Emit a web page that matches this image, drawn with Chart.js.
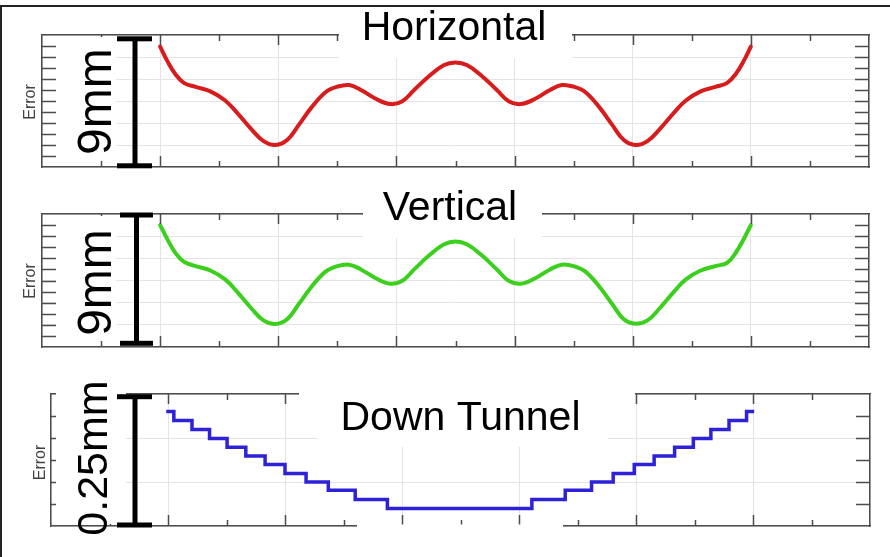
<!DOCTYPE html>
<html>
<head>
<meta charset="utf-8">
<script src="https://cdn.jsdelivr.net/npm/chart.js@4"></script>
<style>
  html, body { margin: 0; padding: 0; background: #fff; }
  #page { position: relative; width: 890px; height: 557px; overflow: hidden; }
  #frame { position: absolute; left: 0; top: 5px; width: 900px; height: 560px;
           border-top: 2px solid #222; border-left: 2px solid #222; box-sizing: border-box; }
  canvas { position: absolute; left: 0; }
</style>
</head>
<body>
<div id="page">
  <div id="frame"></div>
  <canvas id="c1" width="890" height="185" style="top:0"></canvas>
  <canvas id="c2" width="890" height="185" style="top:185px"></canvas>
  <canvas id="c3" width="890" height="187" style="top:370px"></canvas>
</div>
<script>
// values (x in tick units 0..14, error in minor y-tick units)
const curveX = [2.0, 2.125, 2.25, 2.4, 2.6, 2.85, 3.1, 3.3, 3.55, 3.75, 3.95, 4.15, 4.35, 4.55, 4.8, 5.0,
  5.2, 5.4, 5.65, 5.9, 6.1, 6.3, 6.55, 6.8, 7.0, 7.2, 7.45, 7.7, 7.9, 8.1, 8.35, 8.6, 8.8, 9.0, 9.2,
  9.45, 9.65, 9.85, 10.05, 10.25, 10.45, 10.7, 10.9, 11.15, 11.4, 11.6, 11.75, 11.875, 12.0];
const horizontalErr = [10.95, 9.6, 8.5, 7.65, 7.28, 6.88, 6.05, 4.95, 3.4, 2.35, 2.0, 2.45, 3.85, 5.33, 6.8, 7.3,
  7.45, 7.0, 6.2, 5.72, 5.98, 7.0, 8.25, 9.25, 9.5, 9.25, 8.25, 7.0, 5.98, 5.72, 6.2, 7.0, 7.45, 7.3, 6.8,
  5.33, 3.85, 2.45, 2.0, 2.35, 3.4, 4.95, 6.05, 6.88, 7.28, 7.65, 8.5, 9.6, 10.95];
const verticalErr = [11.0, 9.7, 8.55, 7.7, 7.3, 6.9, 6.1, 5.0, 3.45, 2.4, 2.07, 2.5, 3.9, 5.35, 6.8, 7.3,
  7.43, 7.0, 6.2, 5.71, 5.98, 7.0, 8.25, 9.25, 9.53, 9.25, 8.25, 7.0, 5.98, 5.71, 6.2, 7.0, 7.43, 7.3, 6.8,
  5.35, 3.9, 2.5, 2.1, 2.4, 3.45, 5.0, 6.1, 6.9, 7.3, 7.6, 8.55, 9.7, 11.0];
const tunnelX = [1.97, 2.10, 2.41, 2.71, 3.01, 3.33, 3.66, 4.0, 4.36, 4.74, 5.20, 5.75,
  8.22, 8.79, 9.24, 9.61, 9.97, 10.31, 10.66, 10.98, 11.28, 11.59, 11.89, 12.02];
const tunnelErr = [5.2, 4.79, 4.39, 3.98, 3.58, 3.18, 2.79, 2.39, 2.0, 1.62, 1.21, 0.8,
  1.21, 1.62, 2.0, 2.39, 2.79, 3.18, 3.58, 3.98, 4.39, 4.79, 5.2, 5.2];
const titles = ["Horizontal", "Vertical", "Down Tunnel"];
const spans = ["9mm", "9mm", "0.25mm"];

const AXIS = "#4d4d4d";
const GRID = "#e4e4e4";
const FONT = '"Liberation Sans", Arial, sans-serif';

function points(xs, ys) { return xs.map((x, i) => ({ x, y: ys[i] })); }

// inward MATLAB-style ticks, white cover boxes, titles and the scale bracket
function decor(d) {
  return {
    id: "decor",
    afterDraw(chart) {
      const ctx = chart.ctx, a = chart.chartArea;
      const sx = chart.scales.x, sy = chart.scales.y;
      ctx.save();
      ctx.strokeStyle = AXIS;
      ctx.lineWidth = 1.5;
      ctx.beginPath();
      for (let v = 1; v < 14; v++) {
        const px = Math.round(sx.getPixelForValue(v)) + 0.5;
        const major = v % 2 === 0;
        ctx.moveTo(px, a.bottom); ctx.lineTo(px, a.bottom - (major ? 11 : 6));
        ctx.moveTo(px, a.top); ctx.lineTo(px, a.top + (major ? 10 : 6));
      }
      for (let v = 1; v < d.ymax; v++) {
        const py = Math.round(sy.getPixelForValue(v)) + 0.5;
        ctx.moveTo(a.left, py); ctx.lineTo(a.left + 14, py);
        ctx.moveTo(a.right, py); ctx.lineTo(a.right - 14, py);
      }
      ctx.stroke();

      ctx.fillStyle = "#fff";
      d.masks.forEach(m => ctx.fillRect(m[0], m[1], m[2] - m[0], m[3] - m[1]));

      ctx.fillStyle = "#000";
      ctx.font = "41px " + FONT;
      ctx.textAlign = "center";
      ctx.textBaseline = "alphabetic";
      ctx.fillText(d.title, d.titleX, d.titleY);

      const vtext = (t, x, y, size, color) => {
        ctx.save();
        ctx.translate(x, y);
        ctx.rotate(-Math.PI / 2);
        ctx.font = size + "px " + FONT;
        ctx.fillStyle = color;
        ctx.textAlign = "center";
        ctx.fillText(t, 0, 0);
        ctx.restore();
      };
      vtext("Error", d.err[0], d.err[1], 16, "#444");
      vtext(d.span, d.spanPos[0], d.spanPos[1], d.spanSize, "#000");

      const b = d.bracket;
      ctx.fillStyle = "#000";
      ctx.fillRect(b.x - 2.5, b.top, 5, b.bottom - b.top);
      ctx.fillRect(b.left, b.top - 2.5, b.right - b.left, 5);
      ctx.fillRect(b.left, b.bottom - 2.5, b.right - b.left, 5);
      ctx.restore();
    }
  };
}

function panel(id, ds, ymax, pad, d) {
  d.ymax = ymax;
  const zero = s => { if (s.isHorizontal()) s.height = 0; else s.width = 0; };
  const edge = pos => ({
    position: pos, type: "linear", ticks: { display: false },
    grid: { display: false, drawTicks: false }, border: { display: true, color: AXIS, width: 1.5 },
    afterFit: zero
  });
  return new Chart(document.getElementById(id), {
    type: "line",
    data: { datasets: [ds] },
    options: {
      responsive: false, animation: false, devicePixelRatio: 1,
      layout: { padding: pad },
      plugins: { legend: { display: false }, tooltip: { enabled: false } },
      scales: {
        x: { type: "linear", position: "bottom", min: 0, max: 14, ticks: { display: false, stepSize: 2 },
             grid: { color: GRID, drawTicks: false }, border: { color: AXIS, width: 1.5 }, afterFit: zero },
        y: { type: "linear", position: "left", min: 0, max: ymax, ticks: { display: false, stepSize: 2 },
             grid: { color: GRID, drawTicks: false }, border: { color: AXIS, width: 1.5 }, afterFit: zero },
        x2: edge("top"),
        y2: edge("right")
      }
    },
    plugins: [decor(d)]
  });
}

const smooth = { pointRadius: 0, borderWidth: 4, tension: 0.4,
                 borderCapStyle: "round", borderJoinStyle: "round", fill: false };

panel("c1", { ...smooth, data: points(curveX, horizontalErr), borderColor: "#d61c1c" }, 12,
  { left: 42, right: 21, top: 35, bottom: 18 },
  { title: titles[0], titleX: 454, titleY: 40, span: spans[0], spanPos: [111, 101.7], spanSize: 48,
    err: [35, 102], masks: [[339, 8, 572, 58.5], [56, 37, 116, 161]],
    bracket: { x: 135, top: 38.8, bottom: 165.8, left: 117, right: 152 } });

panel("c2", { ...smooth, data: points(curveX, verticalErr), borderColor: "#3ccf1e" }, 12,
  { left: 42, right: 21, top: 29, bottom: 23 },
  { title: titles[1], titleX: 450, titleY: 35, span: spans[1], spanPos: [111, 97.5], spanSize: 48,
    err: [35, 96], masks: [[363, 3, 542, 53], [56, 31, 116, 156]],
    bracket: { x: 136.5, top: 30, bottom: 158.3, left: 120, right: 153 } });

panel("c3", { pointRadius: 0, borderWidth: 3.5, stepped: true, fill: false,
              data: points(tunnelX, tunnelErr), borderColor: "#2d22d8" }, 6,
  { left: 51, right: 20, top: 24, bottom: 31 },
  { title: titles[2], titleX: 460.5, titleY: 60, span: spans[2], spanPos: [107, 88], spanSize: 43,
    err: [45, 92.5], masks: [[299, 10, 635, 37], [317, 10, 608, 77], [56, 15, 126, 154], [357, 154.5, 563, 159]],
    bracket: { x: 135, top: 26.7, bottom: 155, left: 117, right: 152 } });
</script>
</body>
</html>
